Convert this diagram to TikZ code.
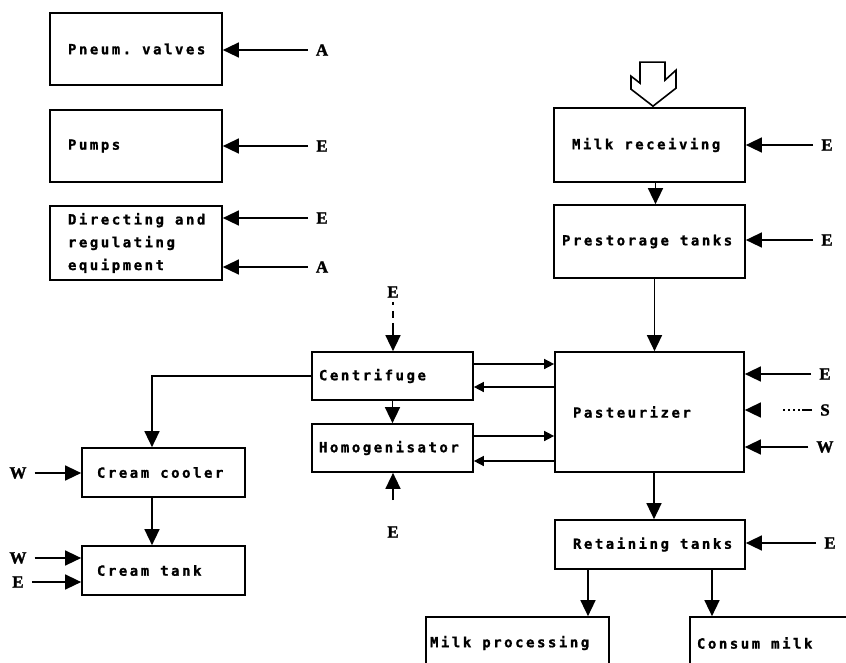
\documentclass[tikz,border=0pt]{standalone}
\usepackage{fontspec}
\usepackage{tikz}
\usetikzlibrary{arrows.meta,positioning,calc}
\newfontfamily\matrixfont{DejaVu Sans Mono Bold}[LetterSpace=18, FakeBold=1.2]
\newfontfamily\tagfont{Liberation Serif Bold}[FakeBold=1.5]
\newcommand\gap{\hspace*{11pt}}

\begin{document}
\begin{tikzpicture}[x=1pt, y=-1pt]
    % Define styles
    \tikzset{
        unit/.style={draw, line width=1.7pt, align=left, inner ysep=0pt,
            font=\matrixfont\fontsize{14}{16.8}\selectfont},
        sig/.style={inner xsep=8pt, inner ysep=4pt, font=\tagfont\fontsize{17}{20}\selectfont},
        arrow/.style={-{Triangle[length=16pt, width=15pt]}, line width=1.5pt},
        flow/.style={-{Triangle[length=10pt, width=10pt]}, line width=1.5pt},
        hollow/.style={draw, line width=1.6pt, line join=miter}
    }
    \useasboundingbox (0,0) rectangle (846,662);

    % Equipment (left column)
    \node[unit, minimum height=72pt, text width=136pt, inner xsep=18pt] (valves) at (136,49) {Pneum.\gap valves};
    \node[unit, minimum height=72pt, text width=136pt, inner xsep=18pt] (pumps) at (136,146) {Pumps};
    \node[unit, minimum height=74pt, text width=136pt, inner xsep=18pt] (direct) at (136,243) {Directing\gap and\\[6pt]regulating\\[6pt]equipment};

    % Main milk line
    \node[unit, minimum height=74pt, text width=155pt, inner xsep=18pt] (rec) at (649.5,145) {Milk\gap receiving};
    \node[unit, minimum height=73pt, text width=175pt, inner xsep=8pt] (pre) at (649.5,241.5) {Prestorage\gap tanks};
    \node[unit, minimum height=120pt, text width=153pt, inner xsep=18pt] (past) at (649.5,412) {Pasteurizer};
    \node[unit, minimum height=49pt, text width=154pt, inner xsep=18pt] (ret) at (650,544.5) {Retaining\gap tanks};
    \node[unit, minimum height=52pt, text width=175pt, inner xsep=4pt] (proc) at (517.5,643) {Milk\gap processing};
    \node[unit, minimum height=52pt, text width=176pt, inner xsep=7pt] (cons) at (785,643) {Consum\gap milk};

    % Separation and cream line
    \node[unit, minimum height=48pt, text width=147pt, inner xsep=7pt] (cen) at (392.5,376) {Centrifuge};
    \node[unit, minimum height=48pt, text width=147pt, inner xsep=7pt] (hom) at (392.5,448) {Homogenisator};
    \node[unit, minimum height=49pt, text width=133pt, inner xsep=15pt] (cool) at (163.5,472.5) {Cream\gap cooler};
    \node[unit, minimum height=49pt, text width=133pt, inner xsep=15pt] (tank) at (163.5,570.5) {Cream\gap tank};

    % Energy / media labels
    \node[sig] (aValve) at (322,50) {A};
    \node[sig] (ePump) at (322,146) {E};
    \node[sig] (eDir) at (322,218) {E};
    \node[sig] (aDir) at (322,267) {A};
    \node[sig] (eRec) at (827,145) {E};
    \node[sig] (ePre) at (827,240) {E};
    \node[sig] (ePast) at (825,374) {E};
    \node[sig] (sPast) at (825,410) {S};
    \node[sig] (wPast) at (825,447) {W};
    \node[sig] (eRet) at (830,543) {E};
    \node[sig] (eCen) at (393,292) {E};
    \node[sig] (eHom) at (393,532) {E};
    \node[sig] (wCool) at (18,473) {W};
    \node[sig] (wTank) at (18,558) {W};
    \node[sig] (eTank) at (18,582) {E};

    \coordinate (homIn) at (393,500);
    \coordinate (cenOut) at ([yshift=12pt]cen.east);
    \coordinate (cenBack) at ([yshift=-11pt]cen.east);
    \coordinate (homOut) at ([yshift=12pt]hom.east);
    \coordinate (homBack) at ([yshift=-13pt]hom.east);

    % Incoming milk
    \draw[hollow] ($(rec.north)+(3.5,-1)$) -- ++(-22,-17) -- ++(0,-13) -- ++(9,7) -- ++(0,-21)
        -- ++(25,0) -- ++(0,18) -- ++(11,-10) -- ++(0,18) -- cycle;

    % Supply arrows
    \draw[arrow] (aValve.west) -- (aValve.west -| valves.east);
    \draw[arrow] (ePump.west) -- (ePump.west -| pumps.east);
    \draw[arrow] (eDir.west) -- (eDir.west -| direct.east);
    \draw[arrow] (aDir.west) -- (aDir.west -| direct.east);
    \draw[arrow] (eRec.west) -- (eRec.west -| rec.east);
    \draw[arrow] (ePre.west) -- (ePre.west -| pre.east);
    \draw[arrow] (ePast.west) -- (ePast.west -| past.east);
    \draw[arrow, dash pattern=on 10pt off 2pt on 2pt off 3pt on 2pt off 3pt on 2pt off 3pt on 2pt off 60pt] (sPast.west) -- (sPast.west -| past.east);
    \draw[arrow] (wPast.west) -- (wPast.west -| past.east);
    \draw[arrow] (eRet.west) -- (eRet.west -| ret.east);
    \draw[arrow, dash pattern=on 3pt off 6pt on 7pt off 5pt on 80pt] (eCen.south) -- (eCen.south |- cen.north);
    \draw[arrow] (homIn) -- (homIn |- hom.south);
    \draw[arrow] (wCool.east) -- (wCool.east -| cool.west);
    \draw[arrow] (wTank.east) -- (wTank.east -| tank.west);
    \draw[arrow] (eTank.east) -- (eTank.east -| tank.west);

    % Product flow
    \draw[arrow] ([xshift=6pt]rec.south) -- ([xshift=6pt]pre.north);
    \draw[arrow] ([xshift=5pt]pre.south) -- ([xshift=5pt]past.north);
    \draw[arrow] ([xshift=4.5pt]past.south) -- ([xshift=4pt]ret.north);
    \draw[arrow] ([xshift=-62pt]ret.south) -- ([xshift=-62pt]ret.south |- proc.north);
    \draw[arrow] ([xshift=62pt]ret.south) -- ([xshift=62pt]ret.south |- cons.north);
    \draw[flow] (cenOut) -- (cenOut -| past.west);
    \draw[flow] (cenBack -| past.west) -- (cenBack);
    \draw[flow] (homOut) -- (homOut -| past.west);
    \draw[flow] (homBack -| past.west) -- (homBack);
    \draw[arrow] (cen) -- (hom);
    \draw[arrow] (cen.west) -| ([xshift=-11.5pt]cool.north);
    \draw[arrow] ([xshift=-11.5pt]cool.south) -- ([xshift=-11.5pt]tank.north);
\end{tikzpicture}
\end{document}
